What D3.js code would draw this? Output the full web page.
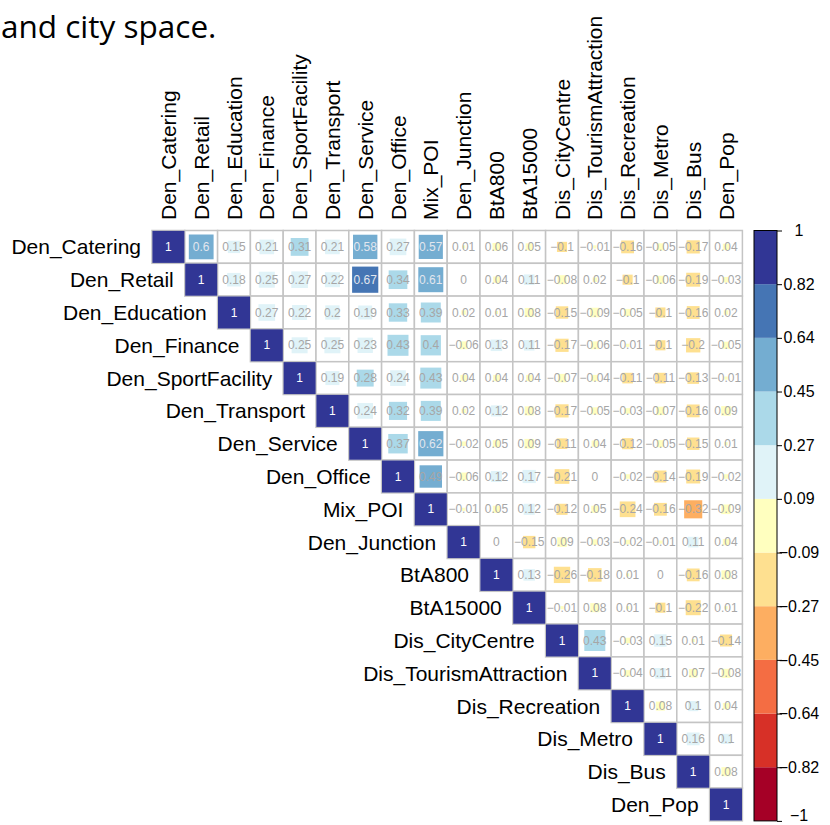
<!DOCTYPE html>
<html>
<head>
<meta charset="utf-8">
<script src="https://cdn.jsdelivr.net/npm/d3@7"></script>
<style>
  html, body { margin: 0; padding: 0; background: #fff; }
  svg { display: block; }
</style>
</head>
<body>
<svg id="chart" width="830" height="825"></svg>
<script>
// Variables, in the order used for both axes of the matrix
const variables = [
  "Den_Catering", "Den_Retail", "Den_Education", "Den_Finance", "Den_SportFacility",
  "Den_Transport", "Den_Service", "Den_Office", "Mix_POI", "Den_Junction",
  "BtA800", "BtA15000", "Dis_CityCentre", "Dis_TourismAttraction", "Dis_Recreation",
  "Dis_Metro", "Dis_Bus", "Den_Pop"
];

// Upper triangle of the correlation matrix: row i holds r(i, j) for j > i
const upperRows = [
  [0.6, 0.15, 0.21, 0.31, 0.21, 0.58, 0.27, 0.57, 0.01, 0.06, 0.05, -0.1, -0.01, -0.16, -0.05, -0.17, 0.04],
  [0.18, 0.25, 0.27, 0.22, 0.67, 0.34, 0.61, 0, 0.04, 0.11, -0.08, 0.02, -0.1, -0.06, -0.19, -0.03],
  [0.27, 0.22, 0.2, 0.19, 0.33, 0.39, 0.02, 0.01, 0.08, -0.15, -0.09, -0.05, -0.1, -0.16, 0.02],
  [0.25, 0.25, 0.23, 0.43, 0.4, -0.06, 0.13, 0.11, -0.17, -0.06, -0.01, -0.1, -0.2, -0.05],
  [0.19, 0.28, 0.24, 0.43, 0.04, 0.04, 0.04, -0.07, -0.04, -0.11, -0.11, -0.13, -0.01],
  [0.24, 0.32, 0.39, 0.02, 0.12, 0.08, -0.17, -0.05, -0.03, -0.07, -0.16, 0.09],
  [0.37, 0.62, -0.02, 0.05, 0.09, -0.11, 0.04, -0.12, -0.05, -0.15, 0.01],
  [0.49, -0.06, 0.12, 0.17, -0.21, 0, -0.02, -0.14, -0.19, -0.02],
  [-0.01, 0.05, 0.12, -0.12, 0.05, -0.24, -0.16, -0.32, -0.09],
  [0, -0.15, 0.09, -0.03, -0.02, -0.01, 0.11, 0.04],
  [0.13, -0.26, -0.18, 0.01, 0, -0.16, 0.08],
  [-0.01, 0.08, 0.01, -0.1, -0.22, 0.01],
  [0.43, -0.03, 0.15, 0.01, -0.14],
  [-0.04, 0.11, 0.07, -0.08],
  [0.08, 0.1, 0.04],
  [0.16, 0.1],
  [0.08]
];

// Diverging palette, 11 classes from -1 to 1
const paletteColors = [
  "#a50026", "#d73027", "#f46d43", "#fdae61", "#fee090", "#ffffbf",
  "#e0f3f8", "#abd9e9", "#74add1", "#4575b4", "#313695"
];

const headingText = "and city space.";

// ---- layout ----
const cellSize = 32.8;
const gridLeft = 152;
const gridTop = 230.5;
const n = variables.length;

const svg = d3.select("#chart");

const x = d3.scaleBand().domain(variables).range([gridLeft, gridLeft + n * cellSize]);
const y = d3.scaleBand().domain(variables).range([gridTop, gridTop + n * cellSize]);
const color = d3.scaleQuantize().domain([-1, 1]).range(paletteColors);
const side = d3.scaleSqrt().domain([0, 1]).range([0, cellSize - 0.8]);

// Cells of the upper triangle, including the diagonal
const cells = [];
variables.forEach((rowVar, i) => {
  variables.forEach((colVar, j) => {
    if (j < i) return;
    const r = j === i ? 1 : upperRows[i][j - i - 1];
    cells.push({ rowVar, colVar, r, diag: i === j });
  });
});

// heading fragment
svg.append("text")
  .attr("x", 1)
  .attr("y", 38)
  .attr("font-family", "'Open Sans', 'Noto Sans', sans-serif")
  .attr("font-size", 31.5)
  .attr("fill", "#000")
  .text(headingText);

// grid
svg.append("g").selectAll("rect")
  .data(cells)
  .join("rect")
  .attr("x", d => x(d.colVar))
  .attr("y", d => y(d.rowVar))
  .attr("width", cellSize)
  .attr("height", cellSize)
  .attr("fill", "#fff")
  .attr("stroke", "#c4c4c4")
  .attr("stroke-width", 1.5);

// squares sized by |r|
svg.append("g").selectAll("rect")
  .data(cells)
  .join("rect")
  .attr("x", d => x(d.colVar) + (cellSize - side(Math.abs(d.r))) / 2)
  .attr("y", d => y(d.rowVar) + (cellSize - side(Math.abs(d.r))) / 2)
  .attr("width", d => side(Math.abs(d.r)))
  .attr("height", d => side(Math.abs(d.r)))
  .attr("fill", d => color(d.r));

// coefficients
const fmt = d3.format(".2~f");
svg.append("g").selectAll("text")
  .data(cells)
  .join("text")
  .attr("x", d => x(d.colVar) + cellSize / 2)
  .attr("y", d => y(d.rowVar) + cellSize / 2)
  .attr("text-anchor", "middle")
  .attr("dominant-baseline", "central")
  .attr("font-family", "'Liberation Sans', Arial, sans-serif")
  .attr("font-size", 12)
  .attr("fill", d => d.diag ? "#ffffff" : (Math.abs(d.r) > 0.5 ? "#e2e6ee" : "#a6a6a6"))
  .text(d => fmt(d.r));

// row labels, ending just left of each diagonal cell
svg.append("g").selectAll("text")
  .data(variables)
  .join("text")
  .attr("x", d => x(d) - 11)
  .attr("y", d => y(d) + cellSize / 2)
  .attr("text-anchor", "end")
  .attr("dominant-baseline", "central")
  .attr("font-family", "'Liberation Sans', Arial, sans-serif")
  .attr("font-size", 21)
  .attr("fill", "#000")
  .text(d => d);

// column labels, vertical
const colLabelBase = 220;
svg.append("g").selectAll("text")
  .data(variables)
  .join("text")
  .attr("transform", d => `translate(${x(d) + cellSize / 2},${colLabelBase}) rotate(-90)`)
  .attr("text-anchor", "start")
  .attr("dominant-baseline", "central")
  .attr("font-family", "'Liberation Sans', Arial, sans-serif")
  .attr("font-size", 21)
  .attr("fill", "#000")
  .text(d => d);

// ---- colour legend ----
const legendLeft = 754;
const legendWidth = 23;
const legendTop = gridTop;
const legendBottom = gridTop + n * cellSize;
const ly = d3.scaleLinear().domain([-1, 1]).range([legendBottom, legendTop]);
const legendBreaks = d3.range(paletteColors.length + 1).map(i => -1 + i * 2 / paletteColors.length);

svg.append("g").selectAll("rect")
  .data(paletteColors)
  .join("rect")
  .attr("x", legendLeft)
  .attr("y", (c, i) => ly(legendBreaks[i + 1]))
  .attr("width", legendWidth)
  .attr("height", (c, i) => ly(legendBreaks[i]) - ly(legendBreaks[i + 1]))
  .attr("fill", c => c);

svg.append("rect")
  .attr("x", legendLeft)
  .attr("y", legendTop)
  .attr("width", legendWidth)
  .attr("height", legendBottom - legendTop)
  .attr("fill", "none")
  .attr("stroke", "#000")
  .attr("stroke-width", 1);

const legendAxis = d3.axisRight(ly)
  .tickValues(legendBreaks)
  .tickSize(5)
  .tickFormat(d3.format(".2~f"));

const axisG = svg.append("g")
  .attr("transform", `translate(${legendLeft + legendWidth},0)`)
  .call(legendAxis);
axisG.select(".domain").remove();
axisG.selectAll(".tick line").attr("stroke", "#000");
axisG.selectAll(".tick text")
  .attr("x", 22)
  .attr("text-anchor", "middle")
  .attr("font-family", "'Liberation Sans', Arial, sans-serif")
  .attr("font-size", 16)
  .attr("fill", "#000");
// keep the bottom label inside the page
axisG.selectAll(".tick text")
  .filter(d => d <= -0.999)
  .attr("dy", "-0.05em");
</script>
</body>
</html>
